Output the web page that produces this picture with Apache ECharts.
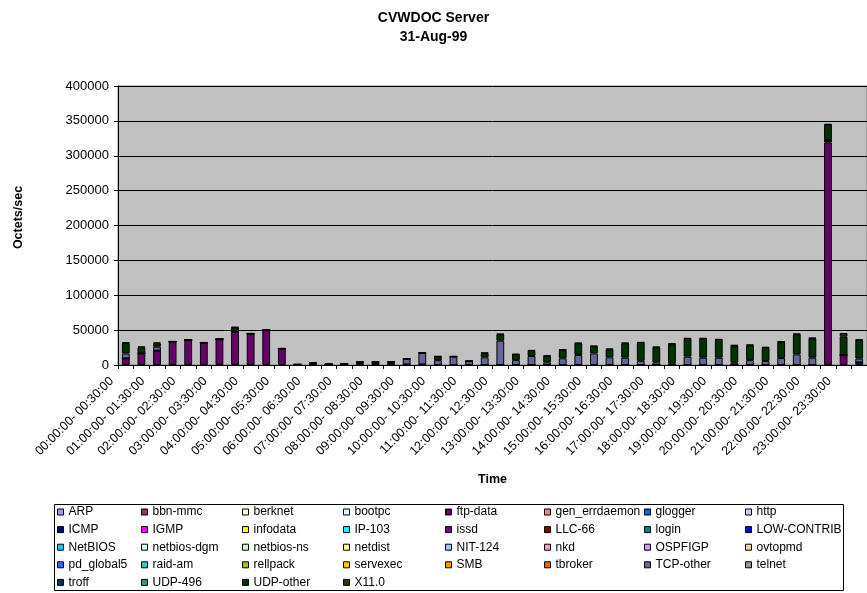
<!DOCTYPE html>
<html><head><meta charset="utf-8">
<script src="https://cdn.jsdelivr.net/npm/echarts@6/dist/echarts.min.js"></script>
<style>html,body{margin:0;padding:0;background:#fff}#c{width:867px;height:593px}</style>
</head><body><div id="c"></div>
<script>
const categories = [
"00:00:00- 00:30:00","00:30:00- 01:00:00","01:00:00- 01:30:00","01:30:00- 02:00:00",
"02:00:00- 02:30:00","02:30:00- 03:00:00","03:00:00- 03:30:00","03:30:00- 04:00:00",
"04:00:00- 04:30:00","04:30:00- 05:00:00","05:00:00- 05:30:00","05:30:00- 06:00:00",
"06:00:00- 06:30:00","06:30:00- 07:00:00","07:00:00- 07:30:00","07:30:00- 08:00:00",
"08:00:00- 08:30:00","08:30:00- 09:00:00","09:00:00- 09:30:00","09:30:00- 10:00:00",
"10:00:00- 10:30:00","10:30:00- 11:00:00","11:00:00- 11:30:00","11:30:00- 12:00:00",
"12:00:00- 12:30:00","12:30:00- 13:00:00","13:00:00- 13:30:00","13:30:00- 14:00:00",
"14:00:00- 14:30:00","14:30:00- 15:00:00","15:00:00- 15:30:00","15:30:00- 16:00:00",
"16:00:00- 16:30:00","16:30:00- 17:00:00","17:00:00- 17:30:00","17:30:00- 18:00:00",
"18:00:00- 18:30:00","18:30:00- 19:00:00","19:00:00- 19:30:00","19:30:00- 20:00:00",
"20:00:00- 20:30:00","20:30:00- 21:00:00","21:00:00- 21:30:00","21:30:00- 22:00:00",
"22:00:00- 22:30:00","22:30:00- 23:00:00","23:00:00- 23:30:00","23:30:00- 24:00:00"];

const yTicks = [0,50000,100000,150000,200000,250000,300000,350000,400000];

// series values (Octets/sec)
const ftpData = [9500,16700,20500,33500,35800,32000,37000,47800,45000,50000,23500,0,
  0,0,0,0,0,0,0,0,0,0,0,0,
  0,0,0,0,0,0,0,0,0,0,0,0,
  0,0,0,0,0,0,0,0,0,319000,14300,3800];
const icmp = [0,0,0,0,0,0,0,0,0,0,0,800,
  1500,1200,1500,1500,1500,1500,800,800,0,0,0,0,
  0,0,0,0,0,0,0,0,0,0,0,0,
  0,0,0,0,0,0,0,0,0,3500,0,0];
const tcpOther = [7000,0,5700,0,0,0,0,0,0,0,0,0,
  1500,0,0,2500,2500,3000,8000,16500,7000,12000,5500,11000,
  34900,7000,12900,3800,9600,14300,16700,11000,10500,6000,3800,2500,
  12000,10500,10500,3300,7000,5700,10000,15300,10500,0,0,5300];
const x11 = [1200,1200,1200,600,600,600,600,600,600,600,600,300,
  600,600,600,800,800,800,800,800,800,800,800,800,
  800,800,800,800,800,800,800,800,800,800,800,800,
  800,800,800,800,800,800,800,800,800,1000,4800,800];
const udpOther = [15000,8600,4800,0,0,0,0,6000,0,0,0,0,
  0,0,0,0,0,0,0,0,5000,0,0,6000,
  9000,8000,7600,9000,12000,16700,10000,11500,20500,26000,21500,27500,
  25800,27300,25800,24500,21300,19200,23000,28700,27700,22000,26800,26700];

const seriesNames = ["ARP","bbn-mmc","berknet","bootpc","ftp-data","gen_errdaemon","glogger","http",
 "ICMP","IGMP","infodata","IP-103","issd","LLC-66","login","LOW-CONTRIB",
 "NetBIOS","netbios-dgm","netbios-ns","netdist","NIT-124","nkd","OSPFIGP","ovtopmd",
 "pd_global5","raid-am","rellpack","servexec","SMB","tbroker","TCP-other","telnet",
 "troff","UDP-496","UDP-other","X11.0"];
const seriesColors = ["#9999FF","#993366","#FFFFCC","#CCFFFF","#660066","#FF8080","#0066CC","#CCCCFF",
 "#000080","#FF00FF","#FFFF00","#00FFFF","#800080","#800000","#008080","#0000FF",
 "#00CCFF","#CCFFFF","#CCFFCC","#FFFF99","#99CCFF","#FF99CC","#CC99FF","#FFCC99",
 "#3366FF","#33CCCC","#99CC00","#FFCC00","#FF9900","#FF6600","#666699","#969696",
 "#003366","#339966","#003300","#333300"];
const seriesData = {"ftp-data": ftpData, "ICMP": icmp, "TCP-other": tcpOther, "X11.0": x11, "UDP-other": udpOther};

const FONT = "'Liberation Sans', Arial, sans-serif";
const chart = echarts.init(document.getElementById('c'), null, {renderer:'canvas'});

const series = seriesNames.map((n,i)=>({
  name:n, type:'bar', stack:'total', barWidth:'50%',
  data: seriesData[n] || [],
  itemStyle:{color:seriesColors[i], borderColor:'#000', borderWidth:1},
  emphasis:{disabled:true}
}));

const legendLefts = [57,141,242,343,445,544,644,745];
const legends = legendLefts.map((x,c)=>({
  orient:'vertical', left:x, top:505, padding:0, itemGap:3.6,
  itemWidth:6, itemHeight:6, icon:'rect',
  data: seriesNames.filter((n,i)=>i%8===c).map(n=>({name:n, itemStyle:{borderColor:'#000',borderWidth:1}})),
  textStyle:{fontFamily:FONT, fontSize:12, color:'#000', lineHeight:14},
  selectedMode:false
}));

chart.setOption({
  animation:false,
  backgroundColor:'#fff',
  title:{text:'CVWDOC Server\n31-Aug-99', left:'center', top:9, padding:0,
    textStyle:{fontFamily:FONT, fontSize:14, fontWeight:'bold', color:'#000', lineHeight:19}},
  legend: legends,
  grid:{left:118, top:86, width:757, height:279, show:true, backgroundColor:'#C0C0C0', borderColor:'#808080', borderWidth:1},
  xAxis:{type:'category', data:categories, boundaryGap:true,
    name:'Time', nameLocation:'middle', nameGap:108,
    nameTextStyle:{fontFamily:FONT, fontSize:12.5, fontWeight:'bold', color:'#000'},
    axisLine:{lineStyle:{color:'#000', width:1}},
    axisTick:{show:true, interval:0, length:4, lineStyle:{color:'#000'}},
    axisLabel:{interval:1, rotate:45, margin:0, padding:[0,20,0,0], fontFamily:FONT, fontSize:12.5, color:'#000'}
  },
  yAxis:{type:'value', min:0, max:400000, interval:50000,
    name:'Octets/sec', nameLocation:'middle', nameGap:93,
    nameTextStyle:{fontFamily:FONT, fontSize:12.5, fontWeight:'bold', color:'#000', padding:[0,0,0,16]},
    axisLine:{show:true, lineStyle:{color:'#000', width:1}},
    axisTick:{show:true, length:4, lineStyle:{color:'#000'}},
    axisLabel:{margin:9, fontFamily:FONT, fontSize:13, color:'#000',
      formatter:v=> yTicks.includes(v) ? String(v) : ''},
    splitLine:{show:true, lineStyle:{color:'#000', width:1}}
  },
  graphic:[{type:'rect', shape:{x:54.5,y:504.5,width:789,height:86}, style:{fill:null, stroke:'#000', lineWidth:1}, silent:true, z:-1}],
  series: series
});
</script></body></html>
